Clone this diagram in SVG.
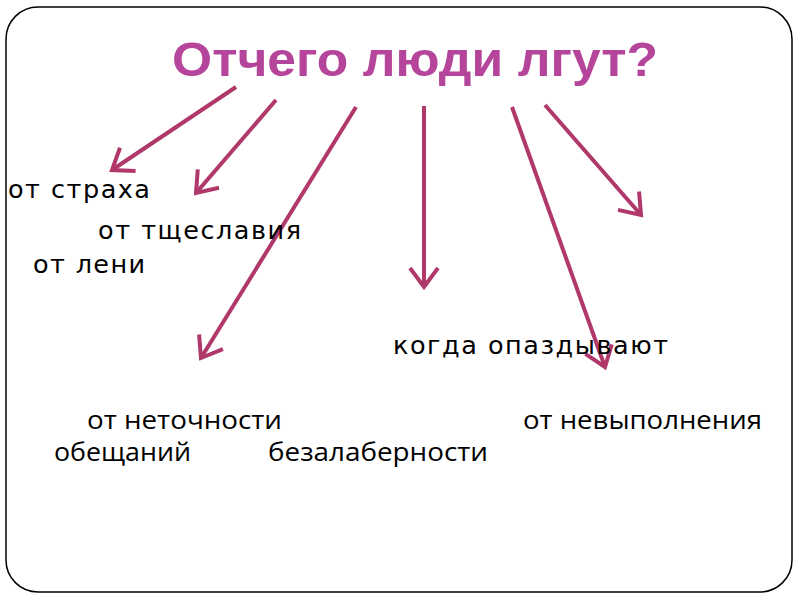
<svg xmlns="http://www.w3.org/2000/svg" width="800" height="600" viewBox="0 0 800 600">
<style>
.t{font-family:"DejaVu Sans",sans-serif;font-size:25.5px;fill:#000}
.b{font-family:"Open Sans","DejaVu Sans",sans-serif;font-size:25px;fill:#000}
.a{stroke:#b0386a;stroke-width:4;fill:none;marker-end:url(#h)}
</style>
<defs>
<marker id="h" markerUnits="userSpaceOnUse" markerWidth="40" markerHeight="40" viewBox="-24 -20 30 40" refX="0" refY="0" orient="auto">
<path d="M-19,-14 L0,0 L-19,14" fill="none" stroke="#b0386a" stroke-width="4"/>
</marker>
</defs>
<rect x="0" y="0" width="800" height="600" fill="#fff"/>
<rect x="6" y="7" width="786" height="585" rx="32" ry="32" fill="#fff" stroke="#000" stroke-width="1.5"/>
<g id="title"><text x="415" y="76" text-anchor="middle" textLength="486" lengthAdjust="spacingAndGlyphs" style="font-family:'Liberation Sans',sans-serif;font-weight:bold;font-size:49px;fill:#b5449b">Отчего люди лгут?</text></g>
<g id="connectors">
<line class="a" x1="236" y1="87" x2="112" y2="170"/>
<line class="a" x1="276" y1="100" x2="196" y2="193"/>
<line class="a" x1="356" y1="107" x2="201" y2="358"/>
<line class="a" x1="424" y1="106" x2="424" y2="287"/>
<line class="a" x1="512" y1="107" x2="605" y2="367"/>
<line class="a" x1="545" y1="105" x2="641" y2="215"/>
</g>
<g id="n1"><text class="t" x="8" y="198" textLength="142">от страха</text></g>
<g id="n2"><text class="t" x="98" y="239" textLength="203">от тщеславия</text></g>
<g id="n3"><text class="t" x="33" y="273" textLength="112">от лени</text></g>
<g id="n4"><text class="t" x="393" y="354" textLength="275">когда опаздывают</text></g>
<g id="n5"><text class="b" x="87" y="429" textLength="195" lengthAdjust="spacingAndGlyphs">от неточности</text><text class="b" x="54" y="461" textLength="137" lengthAdjust="spacingAndGlyphs">обещаний</text></g>
<g id="n6"><text class="b" x="268" y="461" textLength="220" lengthAdjust="spacingAndGlyphs">безалаберности</text></g>
<g id="n7"><text class="b" x="523" y="429" textLength="239" lengthAdjust="spacingAndGlyphs">от невыполнения</text></g>
</svg>
